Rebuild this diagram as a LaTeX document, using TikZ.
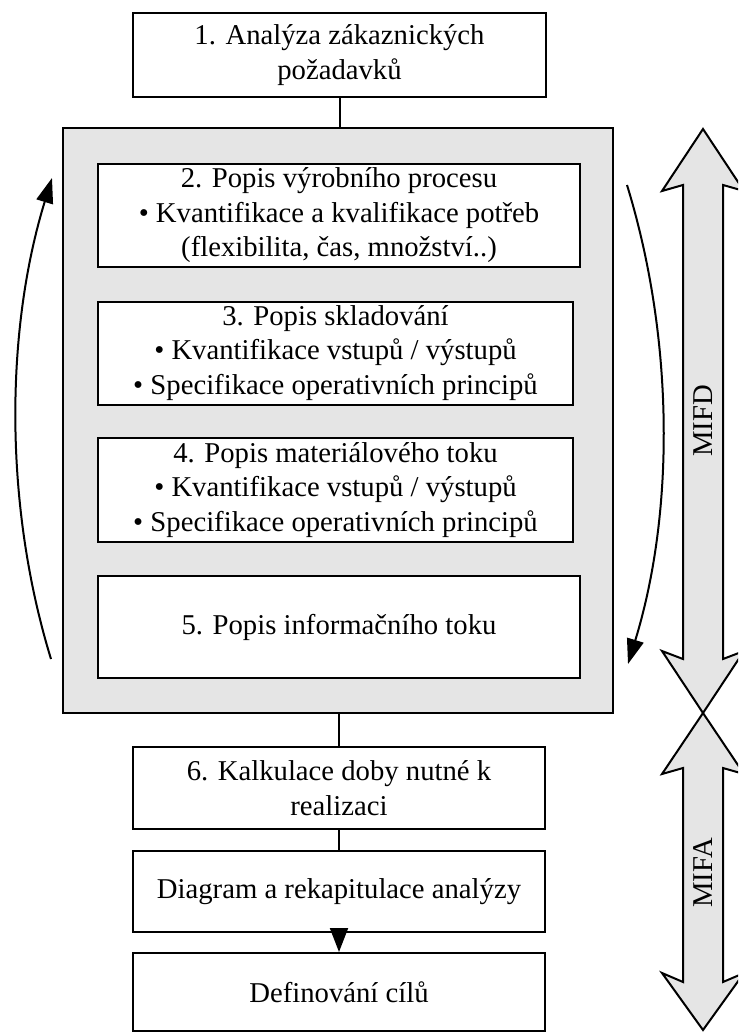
\documentclass[tikz,border=0pt]{standalone}
\usepackage{fontspec}
\setmainfont{Liberation Serif}
\usetikzlibrary{arrows.meta}
\definecolor{panelgray}{HTML}{E5E5E5}
\tikzset{
  txt/.style={font=\fontsize{28.7}{34.5}\selectfont},
  box/.style={draw, line width=2pt, fill=white, align=center, inner sep=0pt, txt},
  panel/.style={draw, line width=2pt, fill=panelgray, inner sep=0pt},
  conn/.style={line width=2pt},
  flow/.style={line width=2pt, -{Triangle[length=25pt,width=17pt]}},
  bigarrow/.style={draw, line width=2pt, fill=panelgray, line join=miter},
  vlabel/.style={rotate=90, txt, inner sep=0pt}
}
\begin{document}
\begin{tikzpicture}[x=1pt, y=-1pt]
  \useasboundingbox (0,0) rectangle (738,1032);
  \clip (0,0) rectangle (738,1032);

  % top box
  \node[box, minimum width=413pt, minimum height=84pt] (n1) at (339.5,55)
    {1. Analýza zákaznických\\požadavků};

  % grey panel holding the description steps
  \node[panel, minimum width=550pt, minimum height=585pt] (grp) at (338,420.5) {};
  \node[box, minimum width=482pt, minimum height=103pt] (n2) at (339,215.5)
    {2. Popis výrobního procesu\\• Kvantifikace a kvalifikace potřeb\\(flexibilita, čas, množství..)};
  \node[box, minimum width=475pt, minimum height=103pt] (n3) at (335.5,353)
    {3. Popis skladování\\• Kvantifikace vstupů / výstupů\\• Specifikace operativních principů};
  \node[box, minimum width=475pt, minimum height=104pt] (n4) at (335.5,490)
    {4. Popis materiálového toku\\• Kvantifikace vstupů / výstupů\\• Specifikace operativních principů};
  \node[box, minimum width=482pt, minimum height=102pt] (n5) at (339,627)
    {5. Popis informačního toku};

  % lower steps
  \node[box, minimum width=412pt, minimum height=82pt] (n6) at (339,788)
    {6. Kalkulace doby nutné k\\realizaci};
  \node[box, minimum width=412pt, minimum height=81pt] (n7) at (339,891.5)
    {Diagram a rekapitulace analýzy};
  \node[box, minimum width=412pt, minimum height=78pt] (n8) at (339,992)
    {Definování cílů};

  % connectors
  \draw[conn] (n1.south) -- (n1.south |- grp.north);
  \draw[conn] (n6.north |- grp.south) -- (n6.north);
  \draw[conn] (n6.south) -- (n7.north);
  \draw[line width=2pt, -{Triangle[length=24pt,width=18pt]}] (n7.south) -- (n8.north);

  % feedback loops beside the panel
  \coordinate (lb) at (51,659);
  \coordinate (lt) at (52,178);
  \draw[flow] (lb) .. controls (4,506) and (5,331) .. (lt);
  \coordinate (rt) at (627,185);
  \coordinate (rb) at (628,664);
  \draw[flow] (rt) .. controls (674,338) and (675,511) .. (rb);

  % double-headed scope arrows
  \path[bigarrow] (703,129) -- (744,191) -- (723,185) -- (723,659) -- (744,651)
    -- (703,713) -- (662,651) -- (683,659) -- (683,185) -- (662,191) -- cycle;
  \path[bigarrow] (703,713) -- (744,774) -- (723,768) -- (723,982) -- (744,973)
    -- (703,1030) -- (662,973) -- (683,982) -- (683,768) -- (662,774) -- cycle;
  \node[vlabel] (mifd) at (703,421) {MIFD};
  \node[vlabel] (mifa) at (703,873) {MIFA};
\end{tikzpicture}
\end{document}
